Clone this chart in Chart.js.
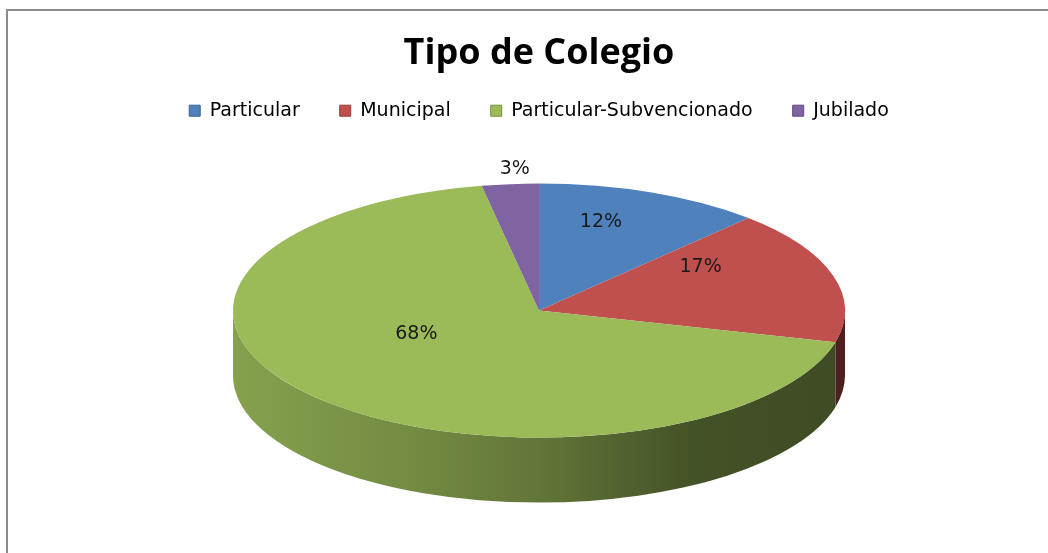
<!DOCTYPE html>
<html>
<head>
<meta charset="utf-8">
<script src="https://cdn.jsdelivr.net/npm/chart.js@4.4.1/dist/chart.umd.min.js"></script>
<style>
  html, body { margin: 0; padding: 0; background: #fff; }
  #wrap { position: relative; width: 1048px; height: 553px; overflow: hidden; }
  #frame { position: absolute; left: 6px; top: 9px; width: 1200px; height: 700px;
           border-left: 2px solid #8c8c8c; border-top: 2px solid #8c8c8c; }
  canvas { position: absolute; left: 0; top: 0; }
</style>
</head>
<body>
<div id="wrap">
  <div id="frame"></div>
  <canvas id="pieChart" width="1048" height="553"></canvas>
</div>
<script>
// données
const labels = ['Particular', 'Municipal', 'Particular-Subvencionado', 'Jubilado'];
const values = [12, 17, 68, 3];
const colors = ['#4f81bd', '#c0504d', '#9bbb59', '#8064a2'];
const edgeColors = ['#3a6390', '#943b39', '#76923f', '#5e4a7a'];

const TITLE_FONT = '"Open Sans", "DejaVu Sans", sans-serif';
const FONT = '"DejaVu Sans", "Open Sans", sans-serif';
const TILT = 127 / 306;   // aplatissement de l'ellipse
const DEPTH = 65;         // épaisseur du disque
const APEX = 24;          // décalage du sommet (perspective) pour les étiquettes

const hexToRgb = h => [1, 3, 5].map(i => parseInt(h.slice(i, i + 2), 16));
const shade = (rgb, f) => `rgb(${rgb.map(c => Math.round(c * f)).join(',')})`;

// faux 3D : paroi latérale + écrasement vertical du disque
const pie3d = {
  id: 'pie3d',
  beforeDatasetsDraw(chart) {
    const ctx = chart.ctx;
    const arcs = chart.getDatasetMeta(0).data;
    const { x: cx, y: cy, outerRadius: r } = arcs[0];

    arcs.forEach((arc, i) => {
      const rgb = hexToRgb(colors[i]);
      const grad = ctx.createLinearGradient(cx - r, 0, cx + r, 0);
      [[0, .86], [.3, .74], [.5, .63], [.75, .44], [1, .4]]
        .forEach(([p, f]) => grad.addColorStop(p, shade(rgb, f)));
      for (const k of [-2, 0, 2]) {
        const a = Math.max(arc.startAngle, k * Math.PI);
        const b = Math.min(arc.endAngle, (k + 1) * Math.PI);
        if (b <= a) continue;
        ctx.beginPath();
        ctx.ellipse(cx, cy, r, r * TILT, 0, a, b);
        ctx.ellipse(cx, cy + DEPTH, r, r * TILT, 0, b, a, true);
        ctx.closePath();
        ctx.fillStyle = grad;
        ctx.fill();
      }
    });

    ctx.save();
    ctx.translate(cx, cy);
    ctx.scale(1, TILT);
    ctx.translate(-cx, -cy);
  },
  afterDatasetsDraw(chart) {
    const ctx = chart.ctx;
    ctx.restore();
    const arcs = chart.getDatasetMeta(0).data;
    const { x: cx, y: cy, outerRadius: r } = arcs[0];
    ctx.save();
    ctx.font = `19px ${FONT}`;
    ctx.fillStyle = '#1a1a1a';
    ctx.textAlign = 'center';
    ctx.textBaseline = 'middle';
    arcs.forEach((arc, i) => {
      const mid = (arc.startAngle + arc.endAngle) / 2;
      const out = values[i] < 5;
      const f = out ? 1.12 : 0.55;
      const ox = out ? cx + 8 : cx;
      const oy = out ? cy : cy - APEX;
      ctx.fillText(values[i] + '%', ox + Math.cos(mid) * r * f, oy + Math.sin(mid) * r * f * TILT);
    });
    ctx.restore();
  },
};

const baseLabels = Chart.overrides.doughnut.plugins.legend.labels.generateLabels;

new Chart(document.getElementById('pieChart'), {
  type: 'pie',
  data: {
    labels,
    datasets: [{
      data: values,
      backgroundColor: colors,
      borderWidth: 0,
      radius: 306,
      clip: false,
    }],
  },
  options: {
    responsive: false,
    animation: false,
    events: [],
    layout: { padding: { left: 30, top: 0, bottom: 62 } },
    plugins: {
      title: {
        display: true,
        text: 'Tipo de Colegio',
        color: '#000',
        font: { family: TITLE_FONT, size: 36, weight: 'bold' },
        padding: { top: 32, bottom: -14 },
      },
      legend: {
        position: 'top',
        labels: {
          boxWidth: 11, boxHeight: 11, padding: 40,
          color: '#000',
          font: { family: FONT, size: 19 },
          generateLabels: chart => baseLabels(chart).map((l, i) => ({
            ...l, strokeStyle: edgeColors[i], lineWidth: 1,
          })),
        },
      },
      tooltip: { enabled: false },
    },
  },
  plugins: [pie3d],
});
</script>
</body>
</html>
